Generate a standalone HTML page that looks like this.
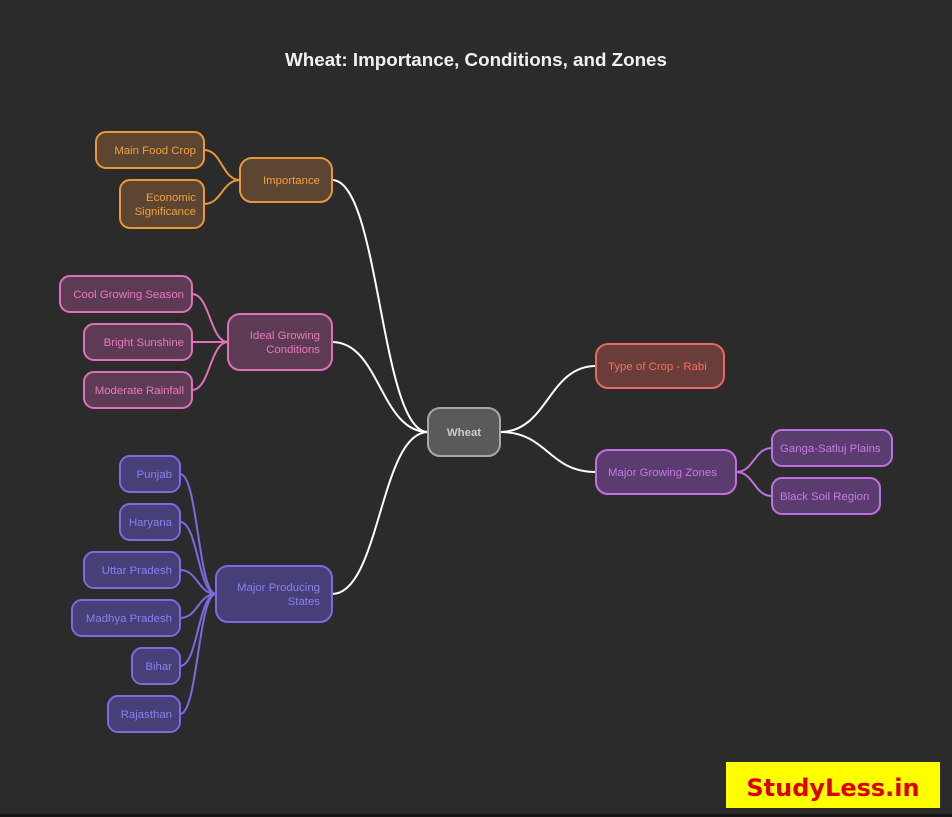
<!DOCTYPE html>
<html><head><meta charset="utf-8"><style>
html,body{margin:0;padding:0;background:#2b2b2b;}
svg{display:block;}
text{font-family:"Liberation Sans",sans-serif;font-size:11.4px;}
</style></head><body>
<svg width="952" height="817" viewBox="0 0 952 817" xmlns="http://www.w3.org/2000/svg">
<rect width="952" height="817" fill="#2b2b2b"/>
<rect y="814" width="952" height="3" fill="#151515"/>
<text x="476" y="66" text-anchor="middle" fill="#f0f0f0" style="font-size:18.8px;font-weight:bold">Wheat: Importance, Conditions, and Zones</text>

<g fill="none" stroke-width="2">
<g stroke="#ffffff">
<path d="M332,180 C380,180 380,432 428,432"/>
<path d="M332,342 C380,342 380,432 428,432"/>
<path d="M332,594 C380,594 380,432 428,432"/>
<path d="M500,432 C548,432 548,366 596,366"/>
<path d="M500,432 C548,432 548,472 596,472"/>
</g>
<g stroke="#e8973a">
<path d="M204,150 C222,150 222,180 240,180"/>
<path d="M204,204 C222,204 222,180 240,180"/>
</g>
<g stroke="#e070b8">
<path d="M192,294 C210,294 210,342 228,342"/>
<path d="M192,342 L228,342"/>
<path d="M192,390 C210,390 210,342 228,342"/>
</g>
<g stroke="#7b6be0">
<path d="M180,474 C198,474 198,594 216,594"/>
<path d="M180,522 C198,522 198,594 216,594"/>
<path d="M180,570 C198,570 198,594 216,594"/>
<path d="M180,618 C198,618 198,594 216,594"/>
<path d="M180,666 C198,666 198,594 216,594"/>
<path d="M180,714 C198,714 198,594 216,594"/>
</g>
<g stroke="#c070e0">
<path d="M736,472 C754,472 754,448 772,448"/>
<path d="M736,472 C754,472 754,496 772,496"/>
</g>
</g>

<g stroke-width="2">
<g fill="#5c4531" stroke="#e8973a">
<rect x="240" y="158" width="92" height="44" rx="12"/>
<rect x="96" y="132" width="108" height="36" rx="10"/>
<rect x="120" y="180" width="84" height="48" rx="10"/>
</g>
<g fill="#5e3b55" stroke="#e070b8">
<rect x="228" y="314" width="104" height="56" rx="12"/>
<rect x="60" y="276" width="132" height="36" rx="10"/>
<rect x="84" y="324" width="108" height="36" rx="10"/>
<rect x="84" y="372" width="108" height="36" rx="10"/>
</g>
<g fill="#473f78" stroke="#7b6be0">
<rect x="216" y="566" width="116" height="56" rx="12"/>
<rect x="120" y="456" width="60" height="36" rx="10"/>
<rect x="120" y="504" width="60" height="36" rx="10"/>
<rect x="84" y="552" width="96" height="36" rx="10"/>
<rect x="72" y="600" width="108" height="36" rx="10"/>
<rect x="132" y="648" width="48" height="36" rx="10"/>
<rect x="108" y="696" width="72" height="36" rx="10"/>
</g>
<rect x="428" y="408" width="72" height="48" rx="12" fill="#5a5a5a" stroke="#a8a8a8"/>
<rect x="596" y="344" width="128" height="44" rx="12" fill="#6a3d3a" stroke="#e86a5a"/>
<g fill="#5a3d6e" stroke="#c070e0">
<rect x="596" y="450" width="140" height="44" rx="12"/>
<rect x="772" y="430" width="120" height="36" rx="10"/>
<rect x="772" y="478" width="108" height="36" rx="10"/>
</g>
</g>

<g text-anchor="end" fill="#f0a040">
<text x="320" y="184">Importance</text>
<text x="196" y="154">Main Food Crop</text>
<text x="196" y="201">Economic</text>
<text x="196" y="215">Significance</text>
</g>
<g text-anchor="end" fill="#e878c0">
<text x="320" y="339">Ideal Growing</text>
<text x="320" y="353">Conditions</text>
<text x="184" y="298">Cool Growing Season</text>
<text x="184" y="346">Bright Sunshine</text>
<text x="184" y="394">Moderate Rainfall</text>
</g>
<g text-anchor="end" fill="#8a80f0">
<text x="320" y="591">Major Producing</text>
<text x="320" y="605">States</text>
<text x="172" y="478">Punjab</text>
<text x="172" y="526">Haryana</text>
<text x="172" y="574">Uttar Pradesh</text>
<text x="172" y="622">Madhya Pradesh</text>
<text x="172" y="670">Bihar</text>
<text x="172" y="718">Rajasthan</text>
</g>
<text x="464" y="436" text-anchor="middle" fill="#cccccc" font-weight="bold">Wheat</text>
<text x="608" y="370" fill="#f07060">Type of Crop - Rabi</text>
<g fill="#c878e8">
<text x="608" y="476">Major Growing Zones</text>
<text x="780" y="452">Ganga-Satluj Plains</text>
<text x="780" y="500">Black Soil Region</text>
</g>

<rect x="726" y="762" width="214" height="46" fill="#ffff00"/>
<text x="833" y="796" text-anchor="middle" fill="#dd0000" style="font-family:'Comic Sans MS','DejaVu Sans',sans-serif;font-size:24px;font-weight:bold">StudyLess.in</text>
</svg>
</body></html>
